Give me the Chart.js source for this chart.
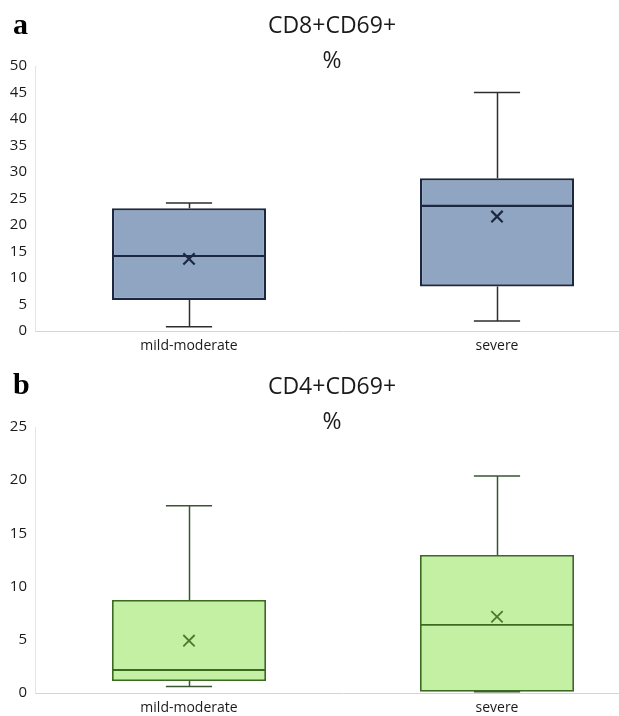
<!DOCTYPE html>
<html>
<head>
<meta charset="utf-8">
<script src="https://cdn.jsdelivr.net/npm/chart.js@4.4.1/dist/chart.umd.min.js"></script>
<style>
  body { margin: 0; background: #fff; width: 619px; height: 716px; overflow: hidden; position: relative; }
  .panel { position: absolute; left: 0; width: 619px; height: 358px; overflow: hidden; }
  .letter { position: absolute; left: 13px; font: bold 30px "Liberation Serif", serif; color: #000; line-height: 1; }
  .title { position: absolute; left: 0; width: 664px; text-align: center; font: 23px "Open Sans", sans-serif; line-height: 35px; color: #1a1a1a; }
  canvas { position: absolute; left: 0; top: 0; }
</style>
</head>
<body>
<div class="panel" style="top:0">
  <canvas id="chartA" width="664" height="358"></canvas>
  <div class="letter" style="top:9px">a</div>
  <div class="title" style="top:7px">CD8+CD69+<br>%</div>
</div>
<div class="panel" style="top:358px">
  <canvas id="chartB" width="664" height="358"></canvas>
  <div class="letter" style="top:11px">b</div>
  <div class="title" style="top:10px">CD4+CD69+<br>%</div>
</div>
<script>
// Categories shared by both panels
const categories = ['mild-moderate', 'severe'];

// Panel a: CD8+CD69+ %
const cd8Min = [0.8, 1.9];
const cd8Q1 = [5.85, 8.4];
const cd8Median = [14.15, 23.6];
const cd8Q3 = [23.15, 28.8];
const cd8Max = [24.15, 45];
const cd8Mean = [13.6, 21.6];
const cd8Ticks = [0, 5, 10, 15, 20, 25, 30, 35, 40, 45, 50];

// Panel b: CD4+CD69+ %
const cd4Min = [0.6, 0.12];
const cd4Q1 = [1.13, 0.12];
const cd4Median = [2.16, 6.4];
const cd4Q3 = [8.74, 12.97];
const cd4Max = [17.6, 20.4];
const cd4Mean = [4.92, 7.17];
const cd4Ticks = [0, 5, 10, 15, 20, 25];

const FONT = '"Open Sans", sans-serif';

//Whiskers behind the boxes, medians on top of them
const boxPlotPlugin = {
  id: 'boxPlot',
  beforeDatasetsDraw(chart, args, opts) {
    const { ctx, scales: { x, y } } = chart;
    ctx.save();
    ctx.strokeStyle = opts.whiskerColor;
    ctx.lineWidth = opts.whiskerWidth;
    opts.min.forEach((lo, i) => {
      const cx = Math.round(x.getPixelForValue(i)) + 0.5;
      const left = x.getPixelForValue(i - opts.capRatio / 2);
      const right = x.getPixelForValue(i + opts.capRatio / 2);
      const yLo = y.getPixelForValue(lo);
      const yHi = y.getPixelForValue(opts.max[i]);
      ctx.beginPath();
      ctx.moveTo(cx, yHi);
      ctx.lineTo(cx, y.getPixelForValue(opts.q3[i]));
      ctx.moveTo(cx, y.getPixelForValue(opts.q1[i]));
      ctx.lineTo(cx, yLo);
      ctx.moveTo(left, yHi);
      ctx.lineTo(right, yHi);
      ctx.moveTo(left, yLo);
      ctx.lineTo(right, yLo);
      ctx.stroke();
    });
    ctx.restore();
  },
  afterDatasetsDraw(chart, args, opts) {
    const { ctx, scales: { y } } = chart;
    const bars = chart.getDatasetMeta(1).data;
    ctx.save();
    ctx.strokeStyle = opts.medianColor;
    ctx.lineWidth = opts.medianWidth;
    opts.median.forEach((m, i) => {
      const bar = bars[i];
      const yy = y.getPixelForValue(m);
      ctx.beginPath();
      ctx.moveTo(bar.x - bar.width / 2, yy);
      ctx.lineTo(bar.x + bar.width / 2, yy);
      ctx.stroke();
    });
    ctx.restore();
  }
};

function createPanel(canvasId, cfg) {
  const ctx = document.getElementById(canvasId).getContext('2d');
  const ticks = cfg.ticks;

  return new Chart(ctx, {
    type: 'bar',
    data: {
      labels: categories,
      datasets: [
        {
          type: 'line',
          data: cfg.mean,
          showLine: false,
          pointStyle: 'crossRot',
          pointRadius: 8,
          pointBorderWidth: cfg.markWidth,
          pointBorderColor: cfg.markColor,
          pointBackgroundColor: cfg.markColor,
          order: 0
        },
        {
          data: cfg.q1.map((lo, i) => [lo, cfg.q3[i]]),
          backgroundColor: cfg.fill,
          borderColor: cfg.border,
          borderWidth: cfg.borderWidth,
          borderSkipped: false,
          barPercentage: 0.5,
          categoryPercentage: 1.0,
          order: 1
        }
      ]
    },
    options: {
      responsive: false,
      animation: false,
      layout: { padding: { left: 0, right: 13, top: cfg.plotTop, bottom: 0 } },
      plugins: {
        legend: { display: false },
        tooltip: { enabled: false },
        boxPlot: {
          min: cfg.min, max: cfg.max, q1: cfg.q1, q3: cfg.q3, median: cfg.median,
          capRatio: 0.15,
          whiskerColor: cfg.whisker,
          whiskerWidth: 1.5,
          medianColor: cfg.border,
          medianWidth: cfg.borderWidth
        }
      },
      scales: {
        x: {
          grid: { display: false, drawTicks: false, tickLength: 0 },
          border: { display: true, color: '#d4d4d4', width: 1 },
          ticks: { color: '#1a1a1a', font: { family: FONT, size: 14 }, padding: 7, maxRotation: 0 },
          afterFit: (scale) => { scale.height = cfg.xAxisHeight; }
        },
        y: {
          min: ticks[0],
          max: ticks[ticks.length - 1],
          grid: { display: false, drawTicks: false, tickLength: 0 },
          border: { display: true, color: '#e4e4e4', width: 1 },
          ticks: { stepSize: ticks[1] - ticks[0], color: '#1a1a1a', font: { family: FONT, size: 15 }, padding: 8 },
          afterFit: (scale) => { scale.width = 35; }
        }
      }
    },
    plugins: [boxPlotPlugin]
  });
}

function initializeCharts() {
  createPanel('chartA', {
    plotTop: 66,
    xAxisHeight: 27,
    ticks: cd8Ticks,
    min: cd8Min, q1: cd8Q1, median: cd8Median, q3: cd8Q3, max: cd8Max, mean: cd8Mean,
    fill: '#8fa5c2', border: '#1c2842', borderWidth: 2.2,
    whisker: '#2e2e2e', markColor: '#1c2842', markWidth: 2.2
  });

  createPanel('chartB', {
    plotTop: 69,
    xAxisHeight: 23,
    ticks: cd4Ticks,
    min: cd4Min, q1: cd4Q1, median: cd4Median, q3: cd4Q3, max: cd4Max, mean: cd4Mean,
    fill: '#c3f0a3', border: '#3b6b22', borderWidth: 1.8,
    whisker: '#3a5530', markColor: '#4a7a30', markWidth: 1.8
  });
}

document.addEventListener('DOMContentLoaded', initializeCharts);
</script>
</body>
</html>
